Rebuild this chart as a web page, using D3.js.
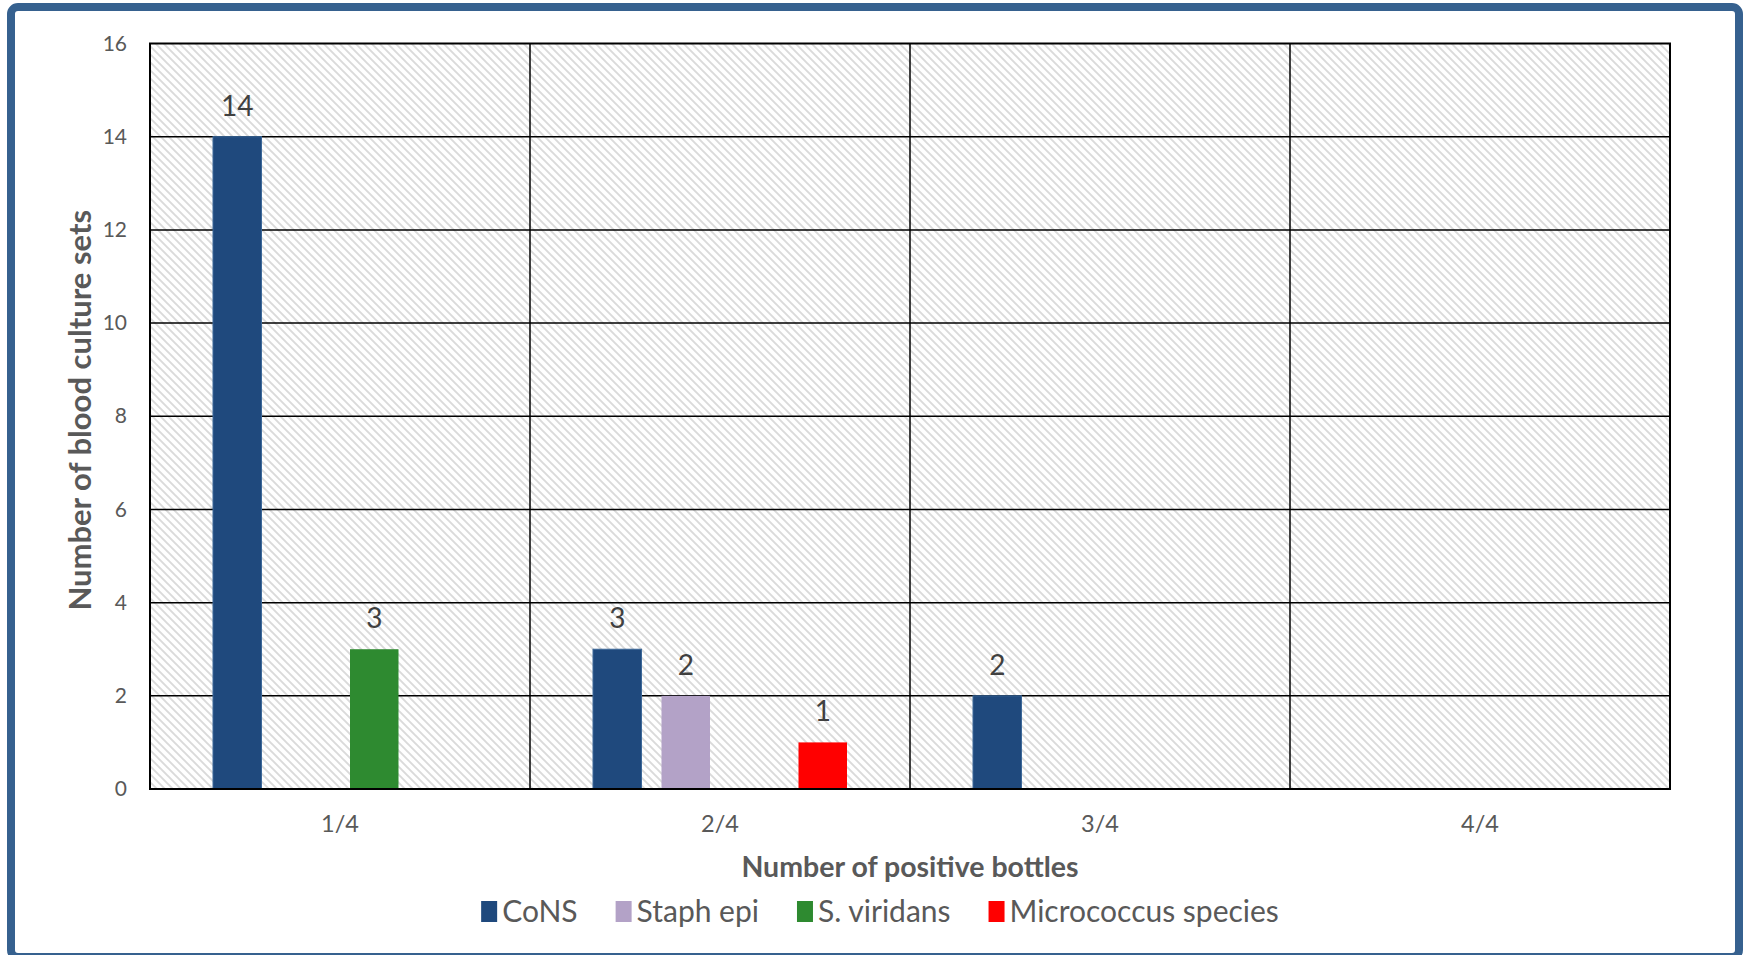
<!DOCTYPE html>
<html>
<head>
<meta charset="utf-8">
<script src="https://cdn.jsdelivr.net/npm/d3@7"></script>
<style>
  html, body { margin: 0; padding: 0; background: #ffffff; }
  svg { display: block; }
  text { font-family: Lato, "Open Sans", sans-serif; }
</style>
</head>
<body>
<script>
// Values
const categories = ["1/4", "2/4", "3/4", "4/4"];
const seriesNames = ["CoNS", "Staph epi", "S. viridans", "Micrococcus species"];
const cons = [14, 3, 2, 0];
const staphEpi = [0, 2, 0, 0];
const sViridans = [3, 0, 0, 0];
const micrococcus = [0, 1, 0, 0];
const seriesColors = ["#1f497d", "#b3a2c7", "#2e8a30", "#ff0000"];
const yTicks = [0, 2, 4, 6, 8, 10, 12, 14, 16];

const width = 1747;
const height = 955;
const plot = { left: 150, right: 1670, top: 43.5, bottom: 789 };

const seriesValues = [cons, staphEpi, sViridans, micrococcus];

const svg = d3.select("body").append("svg")
  .attr("width", width)
  .attr("height", height);

// hatch fill of the plot area
const defs = svg.append("defs");
const pat = defs.append("pattern")
  .attr("id", "hatch")
  .attr("patternUnits", "userSpaceOnUse")
  .attr("width", 8)
  .attr("height", 8);
pat.append("rect").attr("width", 8).attr("height", 8).attr("fill", "#ffffff");
pat.append("path")
  .attr("d", "M0,0 L8,8 M-2,6 L2,10 M6,-2 L10,2")
  .attr("stroke", "#dadada")
  .attr("stroke-width", 1.9);

// outer frame
svg.append("rect")
  .attr("x", 11).attr("y", 7)
  .attr("width", 1728).attr("height", 950)
  .attr("rx", 7)
  .attr("fill", "none")
  .attr("stroke", "#36618f")
  .attr("stroke-width", 8);

const x0 = d3.scaleBand().domain(categories).range([plot.left, plot.right]);
const x1 = d3.scaleBand().domain(seriesNames).range([53, 327])
  .paddingInner(0.292).paddingOuter(0.146);
const y = d3.scaleLinear().domain([0, 16]).range([plot.bottom, plot.top]);

svg.append("rect")
  .attr("x", plot.left).attr("y", plot.top)
  .attr("width", plot.right - plot.left)
  .attr("height", plot.bottom - plot.top)
  .attr("fill", "url(#hatch)");

// gridlines
svg.append("g").selectAll("line.h")
  .data(yTicks.slice(1, -1))
  .join("line")
  .attr("x1", plot.left).attr("x2", plot.right)
  .attr("y1", d => y(d)).attr("y2", d => y(d))
  .attr("stroke", "#000").attr("stroke-width", 1.5);

svg.append("g").selectAll("line.v")
  .data(categories.slice(0, -1))
  .join("line")
  .attr("x1", d => x0(d) + x0.bandwidth()).attr("x2", d => x0(d) + x0.bandwidth())
  .attr("y1", plot.top).attr("y2", plot.bottom)
  .attr("stroke", "#000").attr("stroke-width", 1.5);

// bars
const rows = [];
seriesNames.forEach((s, si) => {
  categories.forEach((c, ci) => {
    rows.push({ series: s, cat: c, value: seriesValues[si][ci], color: seriesColors[si], si: si });
  });
});
const shown = rows.filter(d => d.value > 0);

svg.append("g").selectAll("rect")
  .data(shown)
  .join("rect")
  .attr("x", d => x0(d.cat) + x1(d.series))
  .attr("y", d => y(d.value))
  .attr("width", x1.bandwidth())
  .attr("height", d => y(0) - y(d.value))
  .attr("fill", d => d.color)
  .attr("stroke", d => d.si == 0 ? "#3c6899" : "none")
  .attr("stroke-width", 1);

// data labels
svg.append("g").selectAll("text")
  .data(shown)
  .join("text")
  .attr("x", d => x0(d.cat) + x1(d.series) + x1.bandwidth() / 2)
  .attr("y", d => y(d.value) - 21)
  .attr("text-anchor", "middle")
  .attr("font-size", 28)
  .attr("fill", "#404040")
  .text(d => d.value);

// plot border
svg.append("rect")
  .attr("x", plot.left).attr("y", plot.top)
  .attr("width", plot.right - plot.left)
  .attr("height", plot.bottom - plot.top)
  .attr("fill", "none")
  .attr("stroke", "#000").attr("stroke-width", 2);

// axes
const yAxis = svg.append("g")
  .attr("transform", `translate(${plot.left},0)`)
  .call(d3.axisLeft(y).tickValues(yTicks).tickSize(0).tickPadding(23));
yAxis.select(".domain").remove();
yAxis.selectAll("text")
  .attr("font-size", 21)
  .attr("font-family", "Lato, sans-serif")
  .attr("fill", "#595959");

const xAxis = svg.append("g")
  .attr("transform", `translate(0,${plot.bottom})`)
  .call(d3.axisBottom(x0).tickSize(0).tickPadding(26));
xAxis.select(".domain").remove();
xAxis.selectAll("text")
  .attr("font-size", 23.5)
  .attr("font-family", "Lato, sans-serif")
  .attr("fill", "#595959");

// axis titles
svg.append("text")
  .attr("x", (plot.left + plot.right) / 2)
  .attr("y", 877)
  .attr("text-anchor", "middle")
  .attr("font-size", 28.5)
  .attr("font-weight", "bold")
  .attr("fill", "#595959")
  .text("Number of positive bottles");

svg.append("text")
  .attr("transform", `translate(91,${(plot.top + plot.bottom) / 2 - 6}) rotate(-90)`)
  .attr("text-anchor", "middle")
  .attr("font-size", 31)
  .attr("font-weight", "bold")
  .attr("fill", "#595959")
  .text("Number of blood culture sets");

// legend
const legend = svg.append("g");
let lx = 0;
seriesNames.forEach((s, i) => {
  const item = legend.append("g").attr("transform", `translate(${lx},0)`);
  item.append("rect")
    .attr("x", 0).attr("y", -11)
    .attr("width", 16).attr("height", 21)
    .attr("fill", seriesColors[i]);
  const t = item.append("text")
    .attr("x", 21).attr("y", 10)
    .attr("font-size", 30)
    .attr("fill", "#595959")
    .text(s);
  lx += 21 + t.node().getComputedTextLength() + 38;
});
const legendWidth = lx - 38;
legend.attr("transform", `translate(${880 - legendWidth / 2},912)`);
</script>
</body>
</html>
